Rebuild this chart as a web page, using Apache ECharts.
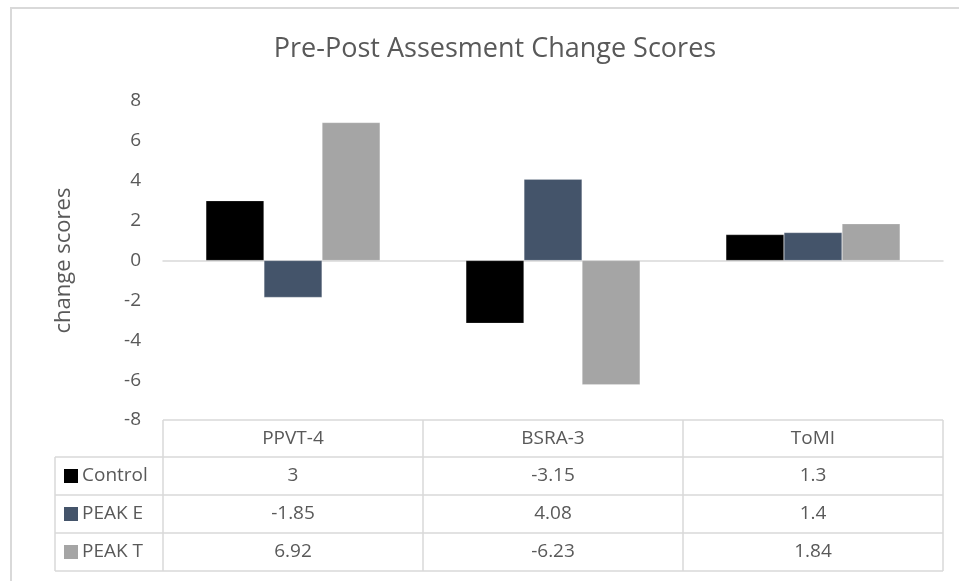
<!DOCTYPE html>
<html>
<head>
<meta charset="utf-8">
<script src="https://cdn.jsdelivr.net/npm/echarts@6/dist/echarts.min.js"></script>
<style>
  html, body { margin: 0; padding: 0; background: #fff; }
  #chart { width: 959px; height: 581px; }
</style>
</head>
<body>
<div id="chart"></div>
<script>
// data
const categories = ['PPVT-4', 'BSRA-3', 'ToMI'];
const seriesNames = ['Control', 'PEAK E', 'PEAK T'];
const control = [3, -3.15, 1.3];
const peakE = [-1.85, 4.08, 1.4];
const peakT = [6.92, -6.23, 1.84];
const colors = ['#000000', '#44546A', '#A5A5A5'];

const seriesData = [control, peakE, peakT];

// layout
const W = 959, H = 581;
const gridLeft = 163, gridRight = 16, gridTop = 101, gridBottom = 161;
const plotW = W - gridLeft - gridRight;
const colW = plotW / categories.length;
const tableTop = H - gridBottom;   // 表格顶边 = 坐标区底边
const headerH = 37;
const rowH = 38;
const labelColLeft = 55;
const textColor = '#595959';
const lineColor = '#d9d9d9';
const font = '"Open Sans", "Liberation Sans", sans-serif';
const tableFontSize = 19;

const chartInstance = echarts.init(document.getElementById('chart'));

const graphics = [];
// 外框
graphics.push({
    type: 'rect',
    shape: { x: 11, y: 8, width: 1200, height: 1200 },
    style: { fill: 'none', stroke: lineColor, lineWidth: 2 },
    silent: true
});

const tableBottom = tableTop + headerH + rowH * seriesNames.length;
// horizontal lines
graphics.push({
    type: 'line',
    shape: { x1: gridLeft, y1: tableTop, x2: gridLeft + plotW, y2: tableTop },
    style: { stroke: lineColor, lineWidth: 1.5 }
});
for (let r = 0; r <= seriesNames.length; r++) {
    const y = tableTop + headerH + r * rowH;
    graphics.push({
        type: 'line',
        shape: { x1: labelColLeft, y1: y, x2: gridLeft + plotW, y2: y },
        style: { stroke: lineColor, lineWidth: 1.5 }
    });
}
// vertical lines
for (let c = 0; c <= categories.length; c++) {
    const x = gridLeft + c * colW;
    graphics.push({
        type: 'line',
        shape: { x1: x, y1: tableTop, x2: x, y2: tableBottom },
        style: { stroke: lineColor, lineWidth: 1.5 }
    });
}
graphics.push({
    type: 'line',
    shape: { x1: labelColLeft, y1: tableTop + headerH, x2: labelColLeft, y2: tableBottom },
    style: { stroke: lineColor, lineWidth: 1.5 }
});

// header text
categories.forEach((cat, c) => {
    graphics.push({
        type: 'text',
        x: gridLeft + (c + 0.5) * colW,
        y: tableTop + headerH / 2,
        style: {
            text: cat, fill: textColor, font: tableFontSize + 'px ' + font,
            textAlign: 'center', textVerticalAlign: 'middle'
        }
    });
});

// rows
seriesNames.forEach((name, r) => {
    const cy = tableTop + headerH + (r + 0.5) * rowH;
    graphics.push({
        type: 'rect',
        shape: { x: 64, y: cy - 7, width: 14, height: 14 },
        style: { fill: colors[r] }
    });
    graphics.push({
        type: 'text',
        x: 82, y: cy,
        style: {
            text: name, fill: textColor, font: tableFontSize + 'px ' + font,
            textAlign: 'left', textVerticalAlign: 'middle'
        }
    });
    seriesData[r].forEach((v, c) => {
        graphics.push({
            type: 'text',
            x: gridLeft + (c + 0.5) * colW,
            y: cy,
            style: {
                text: String(v), fill: textColor, font: tableFontSize + 'px ' + font,
                textAlign: 'center', textVerticalAlign: 'middle'
            }
        });
    });
});

const option = {
    animation: false,
    backgroundColor: '#fff',
    title: {
        text: 'Pre-Post Assesment Change Scores',
        left: 490,
        textAlign: 'center',
        top: 31,
        textStyle: { color: textColor, fontSize: 27, fontWeight: 'normal', fontFamily: font }
    },
    grid: { left: gridLeft, right: gridRight, top: gridTop, bottom: gridBottom },
    xAxis: {
        type: 'category',
        data: categories,
        axisLine: { onZero: true, lineStyle: { color: lineColor, width: 1.5 } },
        axisTick: { show: false },
        axisLabel: { show: false },
        splitLine: { show: false }
    },
    yAxis: {
        type: 'value',
        min: -8,
        max: 8,
        interval: 2,
        name: 'change scores',
        nameLocation: 'middle',
        nameGap: 88,
        nameTextStyle: { color: textColor, fontSize: 22, fontFamily: font },
        axisLine: { show: false },
        axisTick: { show: false },
        splitLine: { show: false },
        axisLabel: { color: textColor, fontSize: 19, fontFamily: font, margin: 22 }
    },
    series: seriesNames.map((name, i) => ({
        name: name,
        type: 'bar',
        data: seriesData[i],
        barGap: 0,
        barCategoryGap: '33%',
        itemStyle: { color: colors[i], borderColor: 'rgba(255,255,255,0.4)', borderWidth: 0.5 }
    })),
    graphic: graphics
};

chartInstance.setOption(option);
</script>
</body>
</html>
